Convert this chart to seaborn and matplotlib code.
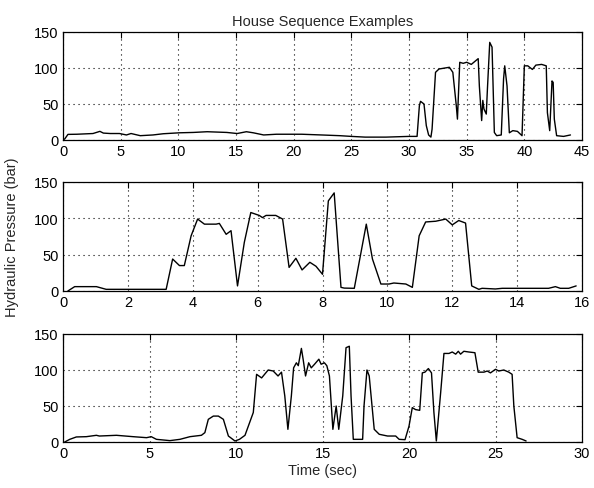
import matplotlib
matplotlib.use("Agg")
import matplotlib.pyplot as plt
import seaborn as sns
import pandas as pd

# ---- Data ----
t1 = [0.0, 0.15, 0.43, 1.2, 2.6, 3.2, 3.5, 4.1, 4.9, 5.5, 5.9, 6.7, 7.8, 8.7, 10.1, 11.3,
      12.5, 14.2, 15.1, 15.9, 16.5, 17.4, 18.5, 20.0, 20.7, 22.4, 24.0, 25.0, 26.2, 28.0,
      30.0, 30.7, 30.9, 31.0, 31.3, 31.5, 31.7, 31.9, 32.0, 32.3, 32.6, 33.5, 33.8, 34.1,
      34.2, 34.4, 34.7, 35.0, 35.4, 36.0, 36.1, 36.3, 36.4, 36.5, 36.7, 36.8, 37.0, 37.2,
      37.4, 37.6, 38.0, 38.2, 38.3, 38.5, 38.7, 39.0, 39.4, 39.8, 40.0, 40.3, 40.7, 41.0,
      41.5, 41.9, 42.0, 42.2, 42.4, 42.5, 42.6, 42.8, 43.4, 44.0]
p1 = [0.5, 1.4, 7.8, 8.0, 9.0, 12.0, 9.6, 9.0, 9.0, 7.0, 9.0, 6.0, 7.0, 8.7, 10.0, 10.5,
      11.5, 10.5, 9.0, 11.5, 10.0, 7.0, 8.0, 8.0, 8.0, 7.0, 6.0, 5.0, 4.0, 4.0,
      5.0, 5.0, 47.7, 53.7, 50.0, 20.0, 7.0, 4.0, 15.0, 94.0, 98.6, 101.0, 94.0, 47.7,
      29.0, 107.9, 106.5, 108.0, 105.0, 113.0, 75.0, 27.0, 55.0, 43.0, 36.0, 71.0, 135.6, 129.0,
      10.5, 6.0, 7.0, 85.0, 103.0, 75.0, 10.0, 13.0, 12.0, 6.0, 103.0, 103.0, 98.0, 104.0,
      105.0, 103.0, 38.0, 13.0, 82.0, 80.0, 29.0, 6.0, 5.0, 7.0]

t2 = [0.15, 0.36, 1.03, 1.33, 3.18, 3.38, 3.59, 3.74, 3.95, 4.15, 4.36, 4.72, 4.82, 5.03,
      5.18, 5.38, 5.59, 5.79, 6.05, 6.15, 6.26, 6.56, 6.77, 6.97, 7.18, 7.37, 7.61, 7.8,
      8.0, 8.18, 8.36, 8.57, 8.67, 8.98, 9.35, 9.54, 9.8, 10.05, 10.2, 10.57, 10.77, 10.98,
      11.18, 11.49, 11.8, 12.0, 12.2, 12.41, 12.6, 12.82, 12.92, 13.33, 13.54, 14.15, 14.97,
      15.18, 15.33, 15.59, 15.82]
p2 = [0.0, 6.0, 6.0, 2.3, 2.3, 44.0, 35.0, 35.0, 76.0, 99.0, 92.0, 92.0, 93.0, 78.0,
      83.0, 7.0, 67.0, 108.0, 104.0, 101.0, 104.0, 104.0, 99.0, 32.5, 45.0, 29.0, 39.5, 34.0,
      23.0, 124.0, 135.0, 5.0, 4.0, 3.7, 92.0, 44.0, 9.6, 9.6, 11.0, 9.6, 5.0, 76.0,
      95.0, 96.0, 99.0, 91.0, 97.0, 93.5, 7.0, 2.3, 3.7, 2.8, 3.7, 3.7, 3.7,
      6.0, 3.7, 3.7, 7.0]

t3 = [0.1, 0.39, 0.77, 1.35, 1.93, 2.1, 3.09, 4.05, 4.83, 5.1, 5.4, 6.18, 6.76, 7.34, 8.0,
      8.2, 8.4, 8.69, 8.98, 9.27, 9.56, 9.94, 10.2, 10.52, 11.0, 11.19, 11.48, 11.86, 12.15,
      12.43, 12.63, 12.82, 13.0, 13.2, 13.33, 13.49, 13.6, 13.78, 13.88, 14.02, 14.2, 14.35,
      14.54, 14.79, 14.92, 15.11, 15.25, 15.4, 15.6, 15.79, 15.94, 16.17, 16.36, 16.55, 16.65,
      16.78, 17.32, 17.4, 17.57, 17.7, 17.99, 18.28, 18.76, 19.23, 19.43, 19.77, 20.0, 20.19,
      20.38, 20.62, 20.77, 20.92, 21.12, 21.3, 21.44, 21.58, 21.83, 22.02, 22.31, 22.5, 22.7,
      22.85, 22.98, 23.17, 23.46, 23.81, 24.0, 24.33, 24.52, 24.71, 25.0, 25.19, 25.48, 25.77,
      25.96, 26.06, 26.25, 26.54, 26.77]
p3 = [0.0, 3.7, 7.0, 7.4, 9.3, 8.3, 9.3, 7.4, 6.0, 7.4, 3.7, 1.9, 3.7, 7.4, 9.3,
      13.0, 31.5, 36.0, 36.0, 31.5, 8.3, 1.4, 3.7, 9.3, 41.0, 94.0, 89.0, 100.0, 98.6,
      91.7, 97.0, 64.0, 17.6, 64.0, 103.0, 110.0, 106.0, 130.0, 115.0, 91.7, 110.0, 103.0,
      108.0, 115.0, 108.0, 110.0, 106.0, 91.7, 17.6, 50.0, 17.6, 64.0, 131.0, 133.0, 64.0,
      3.7, 3.7, 50.0, 100.0, 91.7, 17.6, 10.7, 8.3, 8.3, 3.7, 3.2, 22.0, 47.7,
      45.0, 44.0, 96.0, 97.0, 102.0, 96.0, 41.0, 1.4, 68.6, 123.0, 123.0, 125.0, 122.0,
      126.0, 122.0, 126.0, 125.0, 124.0, 97.0, 97.0, 98.6, 96.0, 101.0, 98.6, 100.0, 97.0,
      94.0, 50.0, 6.0, 3.7, 1.4]

xlims = [45, 16, 30]
xsteps = [5, 2, 5]
yticks = [0, 50, 100, 150]
title = "House Sequence Examples"
ylabel = "Hydraulic Pressure (bar)"
xlabel = "Time (sec)"

sns.set_style("white")
plt.rcParams['font.family'] = ['Liberation Sans', 'DejaVu Sans']
plt.rcParams['font.size'] = 10.5

fig = plt.figure(figsize=(5.94, 4.89), dpi=100)
W, H = 594, 489
L, R = 63, 582
boxes = [(33, 141), (183, 292), (335, 443)]
series = [(t1, p1), (t2, p2), (t3, p3)]

for i, ((top, bot), (t, p)) in enumerate(zip(boxes, series)):
    ax = fig.add_axes([L / W, 1 - bot / H, (R - L) / W, (bot - top) / H])
    df = pd.DataFrame({"t": t, "p": p})
    sns.lineplot(data=df, x="t", y="p", ax=ax, color="black", linewidth=1.0,
                 estimator=None, sort=False)
    ax.set_xlim(0, xlims[i])
    ax.set_ylim(0, 150)
    ax.set_xticks(list(range(0, xlims[i] + 1, xsteps[i])))
    ax.set_yticks(yticks)
    ax.set_xlabel("")
    ax.set_ylabel("")
    ax.grid(True, color="black", linestyle=(0, (1, 3.5)), linewidth=0.8)
    for s in ax.spines.values():
        s.set_color("black")
        s.set_linewidth(0.9)
        s.set_visible(True)
    ax.tick_params(direction="in", length=4, width=0.8, top=True, right=True,
                   colors="black", labelsize=10.5, pad=3)
    if i == 0:
        ax.set_title(title, fontsize=10.5, pad=5)
    if i == 2:
        ax.set_xlabel(xlabel, fontsize=10.5, labelpad=2)

fig.text(12 / W, 1 - 237 / H, ylabel, rotation=90, ha="center", va="center", fontsize=10.5)

fig.savefig("out.png", dpi=100, facecolor="white")
